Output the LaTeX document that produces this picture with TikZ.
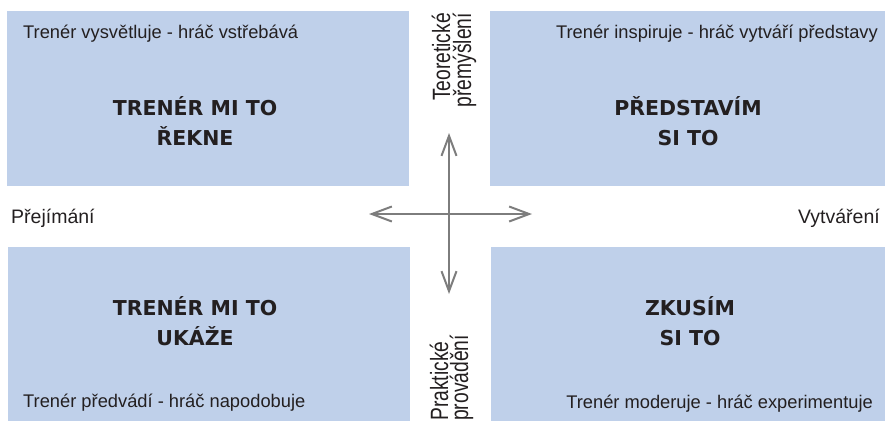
\documentclass[tikz,border=0pt]{standalone}
\usepackage{fontspec}
\setmainfont{Liberation Sans}
\newfontfamily\titlefont{DejaVu Sans}
\newfontfamily\narrowfont[FakeStretch=0.77]{Liberation Sans}
\usetikzlibrary{arrows.meta}
\definecolor{boxblue}{RGB}{191,208,234}
\definecolor{ink}{RGB}{35,31,32}
\definecolor{arrowgray}{RGB}{125,125,125}
\tikzset{
  quad/.style={fill=boxblue, draw=none, inner sep=0pt, anchor=north west},
  titletext/.style={font=\titlefont\bfseries\fontsize{20.5}{30}\selectfont, text=ink, align=center, inner sep=0pt, anchor=base},
  subtext/.style={font=\fontsize{18.3}{22}\selectfont, text=ink, inner sep=0pt},
  sidetext/.style={font=\fontsize{19.5}{23}\selectfont, text=ink, inner sep=0pt},
  vtext/.style={font=\narrowfont\fontsize{25}{30}\selectfont, text=ink, inner sep=0pt, rotate=90},
  axis/.style={draw=arrowgray, line width=2pt, {Straight Barb[length=20pt, width=15pt, line width=2pt]}-{Straight Barb[length=20pt, width=15pt, line width=2pt]}}
}
\begin{document}
\begin{tikzpicture}[x=1pt, y=-1pt]
\useasboundingbox (0,0) rectangle (885,421);
% quadrants
\node[quad, minimum width=402pt, minimum height=175pt] (tl) at (7,11) {};
\node[quad, minimum width=395pt, minimum height=175pt] (tr) at (490,11) {};
\node[quad, minimum width=402pt, minimum height=174pt] (bl) at (8,247) {};
\node[quad, minimum width=394pt, minimum height=174pt] (br) at (491,247) {};
% titles (anchor base = baseline of the last line)
\node[titletext] (tlt) at (195,145) {TRENÉR MI TO\\ŘEKNE};
\node[titletext] (trt) at (688,145) {PŘEDSTAVÍM\\SI TO};
\node[titletext] (blt) at (195,345) {TRENÉR MI TO\\UKÁŽE};
\node[titletext] (brt) at (690,345) {ZKUSÍM\\SI TO};
% subtitles
\node[subtext, anchor=base west] (tls) at (23,38) {Trenér vysvětluje - hráč vstřebává};
\node[subtext, anchor=base east] (trs) at (878,38) {Trenér inspiruje - hráč vytváří představy};
\node[subtext, anchor=base west] (bls) at (23,407) {Trenér předvádí - hráč napodobuje};
\node[subtext, anchor=base east] (brs) at (873,408) {Trenér moderuje - hráč experimentuje};
% side labels
\node[sidetext, anchor=base west] (lab-l) at (11,223) {Přejímání};
\node[sidetext, anchor=base east] (lab-r) at (880,223) {Vytváření};
% vertical labels
\node[vtext, anchor=base east] (vt1) at (450,13) {Teoretické};
\node[vtext, anchor=base east] (vt2) at (471,13) {přemýšlení};
\node[vtext, anchor=base west] (vb1) at (448,421) {Praktické};
\node[vtext, anchor=base west] (vb2) at (468,421) {provádění};
% axes
\coordinate (aup) at (449,133);
\coordinate (adown) at (449,294);
\coordinate (aleft) at (369,214);
\coordinate (aright) at (532,214);
\draw[axis] (aup) -- (adown);
\draw[axis] (aleft) -- (aright);
\end{tikzpicture}
\end{document}
